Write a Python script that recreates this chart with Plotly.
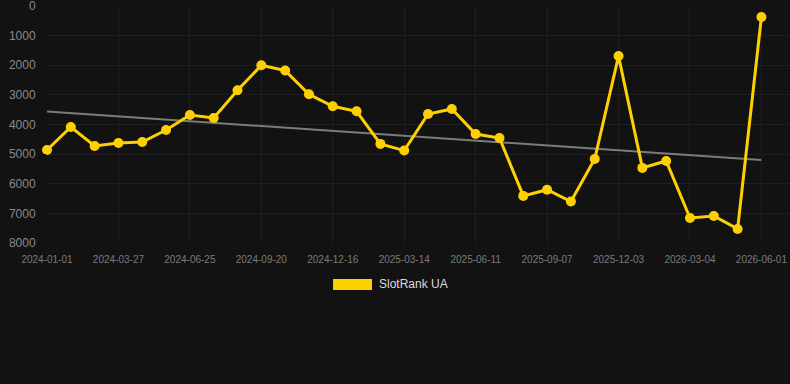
import numpy as np
import plotly.graph_objects as go

dates = [
    "2024-01-01", "2024-01-30", "2024-02-28", "2024-03-27", "2024-04-26", "2024-05-26",
    "2024-06-25", "2024-07-24", "2024-08-22", "2024-09-20", "2024-10-19", "2024-11-17",
    "2024-12-16", "2025-01-14", "2025-02-12", "2025-03-14", "2025-04-13", "2025-05-12",
    "2025-06-11", "2025-07-10", "2025-08-08", "2025-09-07", "2025-10-06", "2025-11-04",
    "2025-12-03", "2026-01-03", "2026-02-02", "2026-03-04", "2026-04-02", "2026-05-02",
    "2026-06-01",
]
rank = [
    4860, 4085, 4725, 4625, 4590, 4185, 3680, 3780, 2845, 2000, 2180, 2980,
    3385, 3555, 4655, 4880, 3645, 3475, 4320, 4455, 6410, 6200, 6600, 5165,
    1690, 5465, 5230, 7155, 7090, 7525, 370,
]
tick_labels = [
    "2024-01-01", "2024-03-27", "2024-06-25", "2024-09-20", "2024-12-16", "2025-03-14",
    "2025-06-11", "2025-09-07", "2025-12-03", "2026-03-04", "2026-06-01",
]
y_ticks = [0, 1000, 2000, 3000, 4000, 5000, 6000, 7000, 8000]
series_name = "SlotRank UA"

idx = np.arange(len(rank))
slope, intercept = np.polyfit(idx, rank, 1)
trend = slope * idx + intercept

BG = "#121212"
YELLOW = "#FFD000"
GRID = "#1f1f1f"

fig = go.Figure()
fig.add_trace(go.Scatter(
    x=dates, y=trend, mode="lines",
    line=dict(color="#7c7c7c", width=2),
    hoverinfo="skip", showlegend=False,
))
fig.add_trace(go.Scatter(
    x=dates, y=rank, mode="lines+markers", name=series_name,
    line=dict(color=YELLOW, width=3),
    marker=dict(color=YELLOW, size=10),
    cliponaxis=False,
    showlegend=False,
))

# legend (drawn as swatch + text)
fig.add_shape(type="rect", xref="paper", yref="paper",
              x0=0.385, x1=0.4374, y0=-0.198, y1=-0.152,
              fillcolor=YELLOW, line=dict(width=0))
fig.add_annotation(text=series_name, xref="paper", yref="paper",
                   x=0.4435, y=-0.175, xanchor="left", yanchor="middle",
                   showarrow=False, font=dict(color="#dddddd", size=12))

fig.update_layout(
    width=790, height=384,
    margin=dict(l=47, r=0, t=6, b=141),
    paper_bgcolor=BG, plot_bgcolor=BG,
    font=dict(family="Liberation Sans, Arial, sans-serif"),
    showlegend=False,
)
fig.update_xaxes(
    type="category", categoryorder="array", categoryarray=dates,
    range=[0, 31.2],
    tickmode="array", tickvals=tick_labels, ticktext=tick_labels,
    tickfont=dict(color="#7a7a7a", size=10),
    showgrid=True, gridcolor=GRID, gridwidth=1,
    zeroline=False, showline=False,
    ticks="outside", ticklen=7, tickcolor=BG,
)
fig.update_yaxes(
    range=[8000, 0],
    tickmode="array", tickvals=y_ticks, ticktext=[str(v) for v in y_ticks],
    tickfont=dict(color="#8a8a8a", size=12),
    ticklabeloverflow="allow",
    showgrid=True, gridcolor=GRID, gridwidth=1,
    zeroline=False, showline=False,
    ticks="outside", ticklen=8, tickcolor=BG,
)

fig.write_html("out.html")
